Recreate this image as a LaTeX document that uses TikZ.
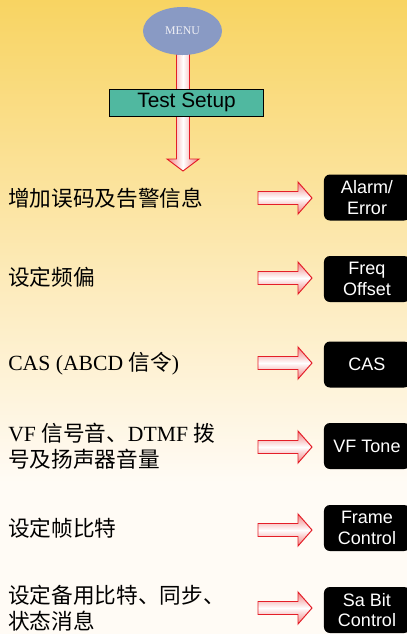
\documentclass[tikz,border=0pt]{standalone}
\usepackage{fontspec}
\setmainfont{Liberation Serif}
\setsansfont{Liberation Sans}
\newfontfamily\cjk{Noto Sans CJK SC}
\usetikzlibrary{shapes.geometric,positioning}

\definecolor{bgtop}{RGB}{248,212,98}
\definecolor{bgmid}{RGB}{253,236,192}
\definecolor{bgbot}{RGB}{255,251,245}
\definecolor{menublue}{RGB}{137,154,196}
\definecolor{menutext}{RGB}{238,238,244}
\definecolor{setupteal}{RGB}{80,184,160}
\definecolor{arrowred}{RGB}{228,30,40}
\definecolor{arrowpink}{RGB}{240,128,128}
\pgfdeclareverticalshading{bgshade}{100bp}{color(0bp)=(bgbot); color(37bp)=(bgbot); color(51.5bp)=(bgmid); color(75bp)=(bgtop); color(100bp)=(bgtop)}

\begin{document}
\begin{tikzpicture}[
    x = 0.025cm, y = -0.025cm,
    ovalnode/.style = {ellipse, fill = menublue, text = menutext, minimum width = 1.975cm, minimum height = 1.2cm, font = \fontsize{8.4}{10}\selectfont},
    setupbox/.style = {draw, line width = 0.7pt, fill = setupteal, minimum width = 3.825cm, minimum height = 0.675cm, inner sep = 0, font = \sffamily\fontsize{14.8}{17}\selectfont},
    leftlabel/.style = {anchor = west, inner sep = 0, align = left, font = \fontsize{15.4}{18.4}\selectfont},
    blackbox/.style = {fill = black, text = white, rounded corners = 0.15cm, minimum width = 2.15cm, minimum height = 1.15cm, inner sep = 0, align = center, font = \sffamily\fontsize{12.8}{14.5}\selectfont},
    hfat/.style = {draw = arrowred, line width = 0.7pt, top color = arrowpink, bottom color = arrowpink, middle color = white},
    vfat/.style = {draw = arrowred, line width = 0.7pt, left color = arrowpink, right color = arrowpink, middle color = white}
]
\useasboundingbox (0,0) rectangle (407,634);
\shade[shading = bgshade] (0,0) rectangle (407,634);

% menu and test setup
\coordinate (vtail) at (183,45);
\coordinate (vtip) at (183,171);
\shadedraw[vfat] (vtail) ++(-6.5,0) -- ++(0,114) -- ++(-9.5,0) -- (vtip) -- ++(16,-12) -- ++(-9.5,0) -- ++(0,-114) -- cycle;
\node[ovalnode] (menu) at (182.5,31) {MENU};
\node[setupbox] (setup) at (186.5,102.5) {Test Setup};

% left texts
\node[leftlabel] (alarmtxt) at (8,198.5) {{\cjk 增加误码及告警信息}};
\node[leftlabel] (freqtxt) at (8,277.5) {{\cjk 设定频偏}};
\node[leftlabel] (castxt) at (8,364) {CAS (ABCD {\cjk 信令})};
\node[leftlabel] (vftxt) at (8,446) {VF {\cjk 信号音、}DTMF {\cjk 拨}\\{\cjk 号及扬声器音量}};
\node[leftlabel] (frametxt) at (8,528.5) {{\cjk 设定帧比特}};
\node[leftlabel] (sabittxt) at (8,608) {{\cjk 设定备用比特、同步、}\\{\cjk 状态消息}};

% black boxes
\node[blackbox] (alarm) at (367,197.5) {Alarm/\\Error};
\node[blackbox] (freq) at (367,279) {Freq\\Offset};
\node[blackbox] (cas) at (367,364.5) {CAS};
\node[blackbox] (vf) at (367,446) {VF Tone};
\node[blackbox] (frame) at (367,528) {Frame\\Control};
\node[blackbox] (sabit) at (367,610) {Sa Bit\\Control};

% arrows
\coordinate (a1) at (258,198);
\coordinate (a2) at (258,278);
\coordinate (a3) at (258,363);
\coordinate (a4) at (258,447);
\coordinate (a5) at (258,530);
\coordinate (a6) at (258,608);
\shadedraw[hfat] (a1) ++(0,-6.5) -- ++(40,0) -- ++(0,-9.5) -- ++(14,16) -- ++(-14,16) -- ++(0,-9.5) -- ++(-40,0) -- cycle;
\shadedraw[hfat] (a2) ++(0,-6.5) -- ++(40,0) -- ++(0,-9.5) -- ++(14,16) -- ++(-14,16) -- ++(0,-9.5) -- ++(-40,0) -- cycle;
\shadedraw[hfat] (a3) ++(0,-6.5) -- ++(40,0) -- ++(0,-9.5) -- ++(14,16) -- ++(-14,16) -- ++(0,-9.5) -- ++(-40,0) -- cycle;
\shadedraw[hfat] (a4) ++(0,-6.5) -- ++(40,0) -- ++(0,-9.5) -- ++(14,16) -- ++(-14,16) -- ++(0,-9.5) -- ++(-40,0) -- cycle;
\shadedraw[hfat] (a5) ++(0,-6.5) -- ++(40,0) -- ++(0,-9.5) -- ++(14,16) -- ++(-14,16) -- ++(0,-9.5) -- ++(-40,0) -- cycle;
\shadedraw[hfat] (a6) ++(0,-6.5) -- ++(40,0) -- ++(0,-9.5) -- ++(14,16) -- ++(-14,16) -- ++(0,-9.5) -- ++(-40,0) -- cycle;

\end{tikzpicture}
\end{document}
